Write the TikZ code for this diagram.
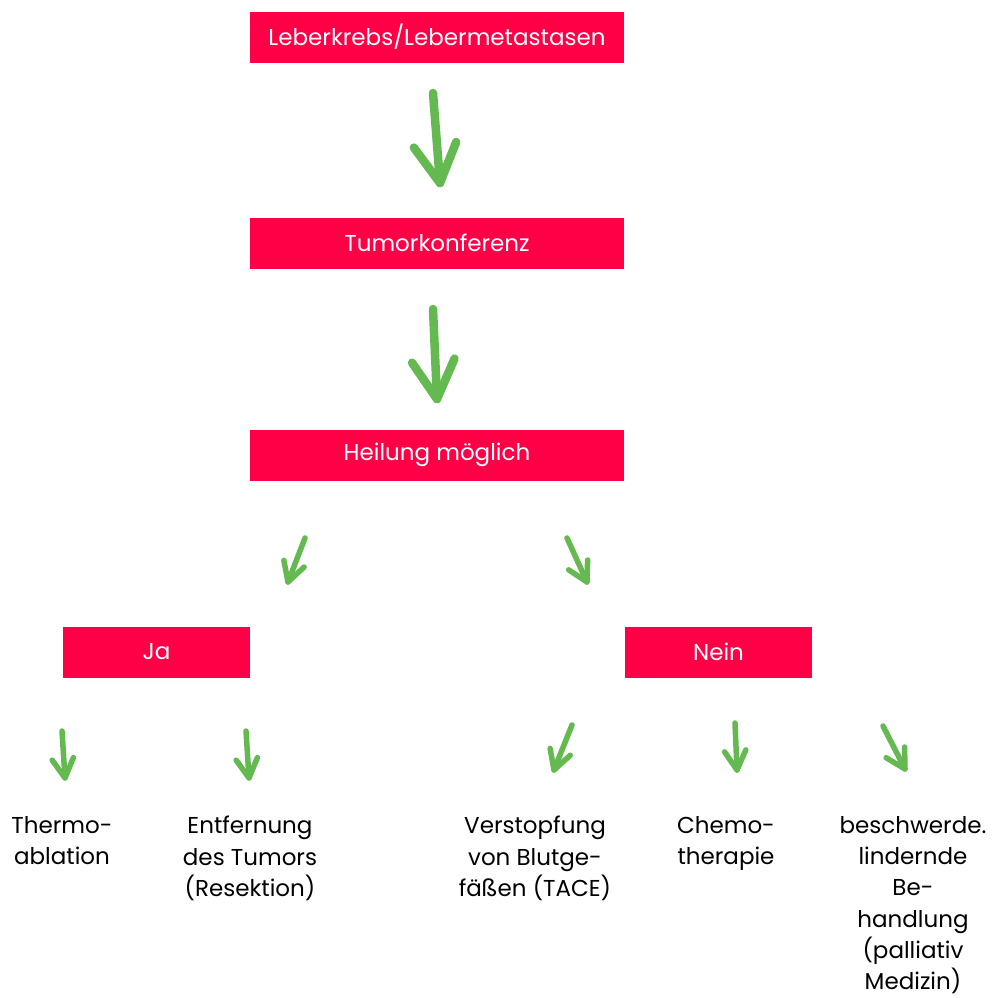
\documentclass[tikz,border=0pt]{standalone}
\usepackage{fontspec}
\setmainfont{Poppins}
\usetikzlibrary{calc}
\definecolor{boxred}{HTML}{FF0046}
\definecolor{arrgreen}{HTML}{64B951}
% hand-drawn style green arrow: #1 start, #2 tip, #3 wing length, #4 style
\newcommand{\garrow}[4]{%
  \draw[#4] (#1) -- (#2);
  \draw[#4] ($(#2)!#3!32:(#1)$) -- (#2) -- ($(#2)!#3!-26:(#1)$);
}
\begin{document}
\begin{tikzpicture}[x=1pt,y=-1pt,
  redbox/.style={fill=boxred, minimum width=374pt, minimum height=51pt, inner sep=0pt,
    text=white, font=\fontsize{23}{27}\selectfont},
  halfbox/.style={redbox, minimum width=187pt},
  lbl/.style={align=center, inner sep=0pt, anchor=north, text=black,
    font=\fontsize{23}{31.3}\selectfont},
  bigarrow/.style={draw=arrgreen, line width=8.5pt, line cap=round, line join=round},
  smallarrow/.style={draw=arrgreen, line width=5.5pt, line cap=round, line join=round}]

\useasboundingbox (0,0) rectangle (999,997);

% boxes
\node[redbox] (b1) at (437,37) {Leberkrebs/Lebermetastasen};
\node[redbox] (b2) at (437,243) {Tumorkonferenz};
\node[redbox] (b3) at (437,455) {Heilung möglich};
\node[halfbox] (ja) at (156.5,652) {Ja};
\node[halfbox] (nein) at (718.5,652) {Nein};

% leaf labels
\node[lbl] (t1) at (62,816) {Thermo-\\ablation};
\node[lbl] (t2) at (250,816) {Entfernung\\des Tumors\\(Resektion)};
\node[lbl] (t3) at (535,816) {Verstopfung\\von Blutge-\\fäßen (TACE)};
\node[lbl] (t4) at (726,816) {Chemo-\\therapie};
\node[lbl] (t5) at (913,816) {beschwerde.\\lindernde\\Be-\\handlung\\(palliativ\\Medizin)};

% arrow end points
\coordinate (a1s) at (433,93);  \coordinate (a1e) at (440,183);
\coordinate (a2s) at (433,309); \coordinate (a2e) at (437,399);
\coordinate (a3s) at (305,538); \coordinate (a3e) at (288,582);
\coordinate (a4s) at (567,538); \coordinate (a4e) at (587,582);
\coordinate (a5s) at (62,731);  \coordinate (a5e) at (65,778);
\coordinate (a6s) at (246,731); \coordinate (a6e) at (249,778);
\coordinate (a7s) at (572,725); \coordinate (a7e) at (554,770);
\coordinate (a8s) at (735,723); \coordinate (a8e) at (737,770);
\coordinate (a9s) at (883,726); \coordinate (a9e) at (905,769);

\garrow{a1s}{a1e}{44pt}{bigarrow}
\garrow{a2s}{a2e}{44pt}{bigarrow}
\garrow{a3s}{a3e}{22pt}{smallarrow}
\garrow{a4s}{a4e}{22pt}{smallarrow}
\garrow{a5s}{a5e}{22pt}{smallarrow}
\garrow{a6s}{a6e}{22pt}{smallarrow}
\garrow{a7s}{a7e}{22pt}{smallarrow}
\garrow{a8s}{a8e}{22pt}{smallarrow}
\garrow{a9s}{a9e}{22pt}{smallarrow}
\end{tikzpicture}
\end{document}
